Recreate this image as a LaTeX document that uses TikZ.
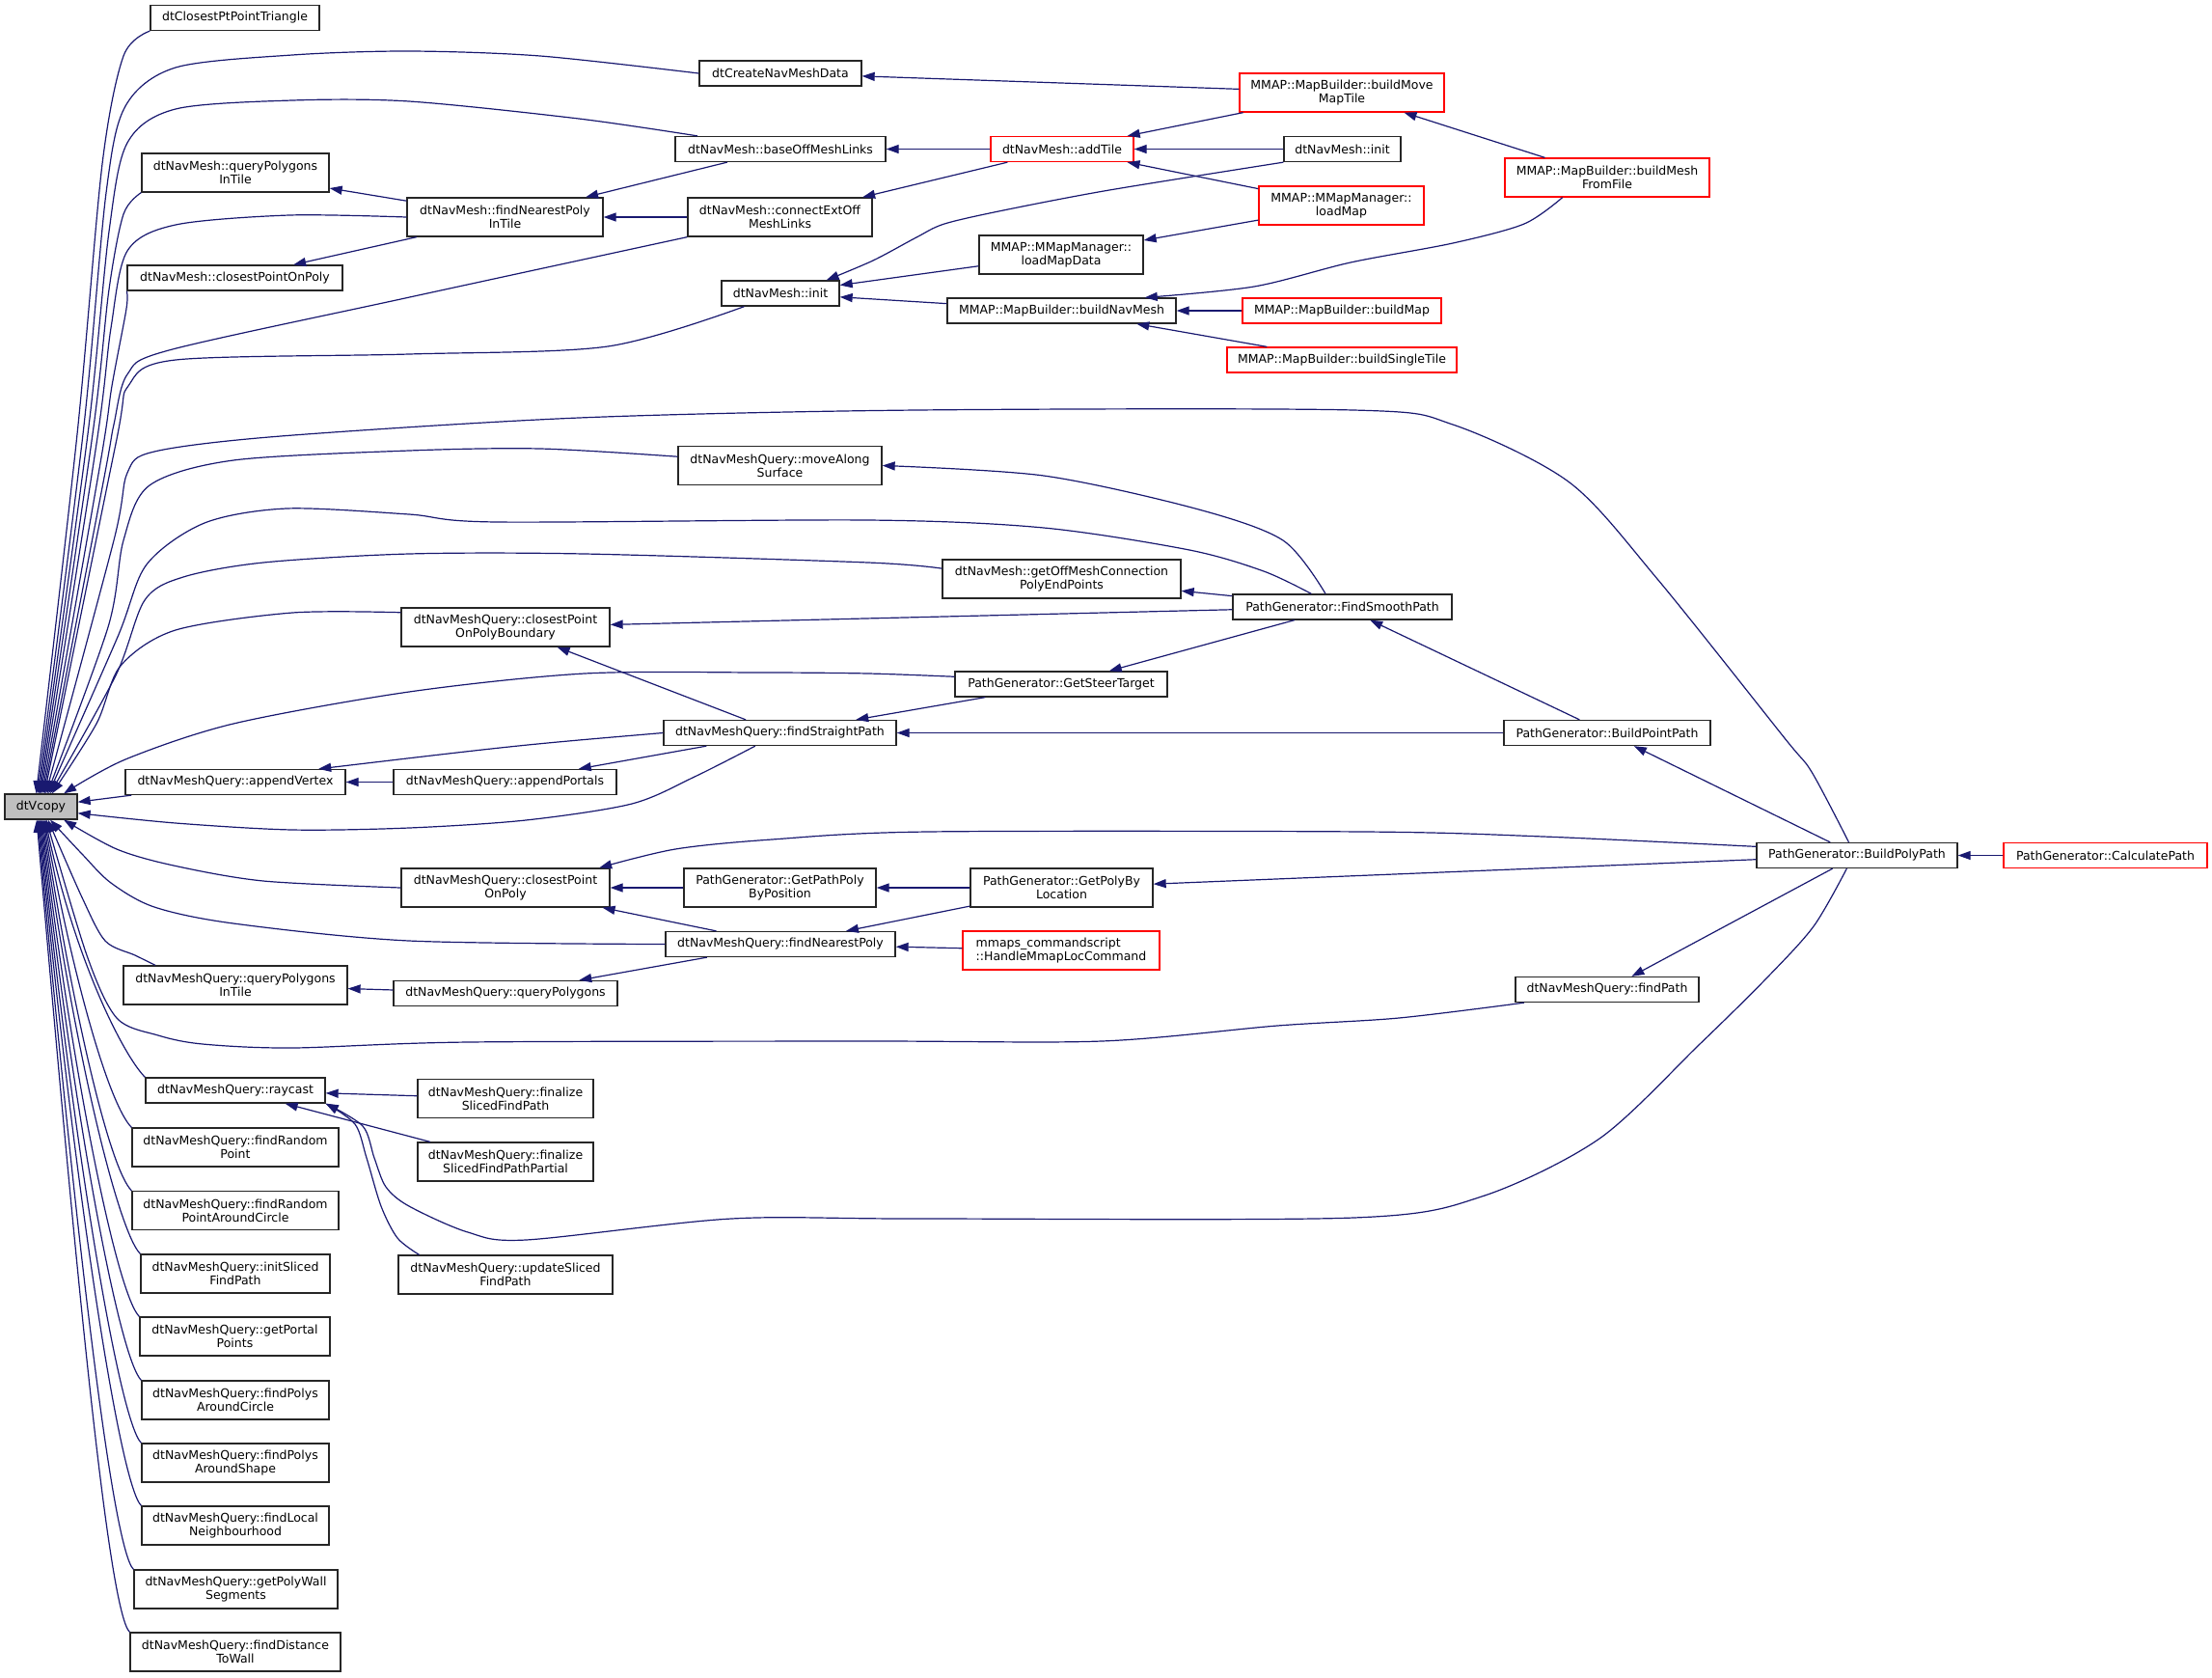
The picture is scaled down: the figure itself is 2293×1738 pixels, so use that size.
\documentclass[tikz,border=0pt]{standalone}
\usepackage{fontspec}
\setmainfont{DejaVu Sans}
\usetikzlibrary{arrows.meta}
\definecolor{edgeblue}{HTML}{191970}
\definecolor{boxred}{HTML}{FF0000}
\definecolor{curfill}{HTML}{BFBFBF}
\tikzset{
  fn/.style={draw=black!85, line width=1.3pt, fill=white, inner sep=0pt, align=center,
    minimum height=26pt, font=\fontsize{12.5}{14}\selectfont},
  fntwo/.style={fn, minimum height=40pt},
  trunc/.style={draw=boxred},
  call/.style={draw=edgeblue, line width=1.2pt, -{Triangle[length=13pt,width=9pt]}},
}
\begin{document}
\begin{tikzpicture}[x=1pt,y=-1pt]
  \useasboundingbox (0,0) rectangle (2293,1738);

  % the function itself
  \node[fn, fill=curfill, minimum width=75pt] (dtvcopy) at (42.5,836) {dtVcopy};

  % first column
  \node[fn, minimum width=175pt] (closestpt) at (243.5,18.5) {dtClosestPtPointTriangle};
  \node[fntwo, minimum width=194pt] (navqpintile) at (244,179) {dtNavMesh::queryPolygons\\InTile};
  \node[fn, minimum width=223pt] (navcpop) at (243.5,288) {dtNavMesh::closestPointOnPoly};
  \node[fn, minimum width=228pt] (appendvtx) at (244,810.5) {dtNavMeshQuery::appendVertex};
  \node[fntwo, minimum width=232pt] (qpintile) at (244,1021) {dtNavMeshQuery::queryPolygons\\InTile};
  \node[fn, minimum width=186pt] (raycast) at (244,1130) {dtNavMeshQuery::raycast};
  \node[fntwo, minimum width=214pt] (randpt) at (244,1189) {dtNavMeshQuery::findRandom\\Point};
  \node[fntwo, minimum width=214pt] (randcircle) at (244,1254.5) {dtNavMeshQuery::findRandom\\PointAroundCircle};
  \node[fntwo, minimum width=196pt] (initsliced) at (244,1320) {dtNavMeshQuery::initSliced\\FindPath};
  \node[fntwo, minimum width=197pt] (portalpts) at (243.5,1385) {dtNavMeshQuery::getPortal\\Points};
  \node[fntwo, minimum width=194pt] (polyscircle) at (244,1451) {dtNavMeshQuery::findPolys\\AroundCircle};
  \node[fntwo, minimum width=194pt] (polysshape) at (244,1516) {dtNavMeshQuery::findPolys\\AroundShape};
  \node[fntwo, minimum width=194pt] (localnbh) at (244,1581) {dtNavMeshQuery::findLocal\\Neighbourhood};
  \node[fntwo, minimum width=211pt] (wallsegs) at (244.5,1647) {dtNavMeshQuery::getPolyWall\\Segments};
  \node[fntwo, minimum width=218pt] (distwall) at (244,1712) {dtNavMeshQuery::findDistance\\ToWall};

  % second column
  \node[fntwo, minimum width=203pt] (nearestintile) at (523.5,225) {dtNavMesh::findNearestPoly\\InTile};
  \node[fntwo, minimum width=216pt] (cpboundary) at (524,650) {dtNavMeshQuery::closestPoint\\OnPolyBoundary};
  \node[fn, minimum width=231pt] (appendportals) at (523.5,810.5) {dtNavMeshQuery::appendPortals};
  \node[fntwo, minimum width=216pt] (cpop) at (524,920) {dtNavMeshQuery::closestPoint\\OnPoly};
  \node[fn, minimum width=232pt] (querypolys) at (524,1029.5) {dtNavMeshQuery::queryPolygons};
  \node[fntwo, minimum width=182pt] (finsliced) at (524,1138.5) {dtNavMeshQuery::finalize\\SlicedFindPath};
  \node[fntwo, minimum width=182pt] (finpartial) at (524,1204) {dtNavMeshQuery::finalize\\SlicedFindPathPartial};
  \node[fntwo, minimum width=222pt] (updsliced) at (524,1321) {dtNavMeshQuery::updateSliced\\FindPath};

  % third column
  \node[fn, minimum width=168pt] (createnav) at (809,76) {dtCreateNavMeshData};
  \node[fn, minimum width=218pt] (baseoff) at (809,154.5) {dtNavMesh::baseOffMeshLinks};
  \node[fntwo, minimum width=191pt] (connectext) at (808.5,225) {dtNavMesh::connectExtOff\\MeshLinks};
  \node[fn, minimum width=122pt] (initleft) at (809,304) {dtNavMesh::init};
  \node[fntwo, minimum width=211pt] (movealong) at (808.5,482.5) {dtNavMeshQuery::moveAlong\\Surface};
  \node[fn, minimum width=241pt] (straightpath) at (808.5,759.5) {dtNavMeshQuery::findStraightPath};
  \node[fntwo, minimum width=199pt] (pathpolypos) at (808.5,920) {PathGenerator::GetPathPoly\\ByPosition};
  \node[fn, minimum width=238pt] (nearestpoly) at (809,978.5) {dtNavMeshQuery::findNearestPoly};

  % fourth column
  \node[fn, trunc, minimum width=148pt] (addtile) at (1101,154.5) {dtNavMesh::addTile};
  \node[fntwo, minimum width=170pt] (loadmapdata) at (1100,264) {MMAP::MMapManager::\\loadMapData};
  \node[fn, minimum width=237pt] (buildnavmesh) at (1100.5,322) {MMAP::MapBuilder::buildNavMesh};
  \node[fntwo, minimum width=247pt] (offmeshconn) at (1100.5,600) {dtNavMesh::getOffMeshConnection\\PolyEndPoints};
  \node[fn, minimum width=220pt] (steertarget) at (1100,709) {PathGenerator::GetSteerTarget};
  \node[fntwo, minimum width=189pt] (polybyloc) at (1100.5,920) {PathGenerator::GetPolyBy\\Location};
  \node[fntwo, trunc, align=left, minimum width=204pt] (mmapsloc) at (1100,985) {mmaps\_commandscript\\::HandleMmapLocCommand};

  % fifth column
  \node[fntwo, trunc, minimum width=212pt] (buildmovetile) at (1391,96) {MMAP::MapBuilder::buildMove\\MapTile};
  \node[fn, minimum width=121pt] (initright) at (1391.5,154.5) {dtNavMesh::init};
  \node[fntwo, trunc, minimum width=171pt] (loadmap) at (1390.5,213) {MMAP::MMapManager::\\loadMap};
  \node[fn, trunc, minimum width=206pt] (buildmap) at (1391,322) {MMAP::MapBuilder::buildMap};
  \node[fn, trunc, minimum width=238pt] (buildsingle) at (1391,373) {MMAP::MapBuilder::buildSingleTile};
  \node[fn, minimum width=227pt] (smoothpath) at (1391.5,629) {PathGenerator::FindSmoothPath};

  % right columns
  \node[fntwo, trunc, minimum width=212pt] (meshfromfile) at (1666,184) {MMAP::MapBuilder::buildMesh\\FromFile};
  \node[fn, minimum width=214pt] (pointpath) at (1666,759.5) {PathGenerator::BuildPointPath};
  \node[fn, minimum width=190pt] (findpath) at (1666,1025.5) {dtNavMeshQuery::findPath};
  \node[fn, minimum width=208pt] (polypath) at (1925,886.5) {PathGenerator::BuildPolyPath};
  \node[fn, trunc, minimum width=211pt] (calcpath) at (2182.5,886.5) {PathGenerator::CalculatePath};

  % callers of dtVcopy from above
  \draw[call] plot[smooth] coordinates {(closestpt.south west) (128,58) (106,170) (80,450) (dtvcopy.110)};
  \draw[call] plot[smooth] coordinates {(createnav.west) (560,58) (424,53) (303,57) (182,70) (130,110) (110,200) (86,450) (dtvcopy.105)};
  \draw[call] plot[smooth] coordinates {(baseoff.171) (600,123) (424,105) (303,104) (182,113) (132,148) (113,240) (91,450) (dtvcopy.100)};
  \draw[call] plot[smooth] coordinates {(navqpintile.south west) (128,222) (113,300) (96,450) (dtvcopy.95)};
  \draw[call] plot[smooth] coordinates {(nearestintile.west) (300,223) (182,233) (132,260) (115,340) (100,460) (dtvcopy.90)};
  \draw[call] plot[smooth] coordinates {(navcpop.south west) (131,320) (116,400) (104,480) (dtvcopy.85)};
  \draw[call] plot[smooth] coordinates {(connectext.south west) (420,309) (175,363) (132,388) (118,440) (107,500) (dtvcopy.80)};
  \draw[call] plot[smooth] coordinates {(initleft.-160) (630,359) (424,367) (182,373) (133,400) (120,460) (dtvcopy.75)};
  \draw[call] plot[smooth] coordinates {(polypath.122) (1878,800) (1850,765) (1718,600) (1627,500) (1506,440) (1403,425) (950,425) (600,433) (291,452) (160,468) (132,490) (118,560) (dtvcopy.70)};
  \draw[call] plot[smooth] coordinates {(movealong.175) (560,465) (424,467) (242,477) (155,503) (128,560) (112,650) (dtvcopy.65)};
  \draw[call] plot[smooth] coordinates {(smoothpath.157) (1310,592) (1233,570) (1082,547) (900,539) (515,541) (424,533) (297,527) (212,542) (152,585) (122,660) (dtvcopy.60)};
  \draw[call] plot[smooth] coordinates {(offmeshconn.175) (900,583) (606,574) (424,574) (273,583) (190,598) (150,622) (120,700) (dtvcopy.55)};
  \draw[call] plot[smooth] coordinates {(cpboundary.172) (303,635) (182,653) (125,690) (100,750) (dtvcopy.50)};
  \draw[call] plot[smooth] coordinates {(steertarget.176) (900,698) (788,697) (606,698) (424,717) (242,750) (130,787) (dtvcopy.30)};

  % callers of dtVcopy from the side and below
  \draw[call] (appendvtx) -- (dtvcopy);
  \draw[call] plot[smooth] coordinates {(straightpath.-152) (720,805) (655,833) (545,850) (424,858) (303,860) (182,853) (dtvcopy.-10)};
  \draw[call] plot[smooth] coordinates {(cpop.west) (273,913) (180,897) (121,880) (dtvcopy.-30)};
  \draw[call] plot[smooth] coordinates {(nearestpoly.west) (424,975) (242,957) (160,940) (115,915) (85,885) (dtvcopy.-55)};
  \draw[call] plot[smooth] coordinates {(qpintile.166) (140,990) (109,975) (85,930) (dtvcopy.-62)};
  \draw[call] plot[smooth] coordinates {(findpath.-171) (1450,1055) (1324,1063) (1142,1079) (900,1079) (485,1080) (303,1086) (210,1082) (164,1073) (121,1055) (90,990) (dtvcopy.-68)};
  \foreach \n/\a/\cy in {raycast/-72/996, randpt/-76/1025, randcircle/-80/1061, initsliced/-84/1097,
      portalpts/-88/1133, polyscircle/-92/1169, polysshape/-96/1205, localnbh/-100/1240,
      wallsegs/-104/1276, distwall/-108/1313}{
    \draw[call] (\n.north west) .. controls +(-22,-22) and (78,\cy) .. (dtvcopy.\a);
  }

  % navmesh building
  \draw[call] (buildmovetile) -- (createnav);
  \draw[call] (buildmovetile) -- (addtile);
  \draw[call] (meshfromfile) -- (buildmovetile);
  \draw[call] plot[smooth] coordinates {(meshfromfile.-156) (1580,232) (1506,252) (1400,272) (1300,297) (buildnavmesh.9)};
  \draw[call] (addtile) -- (baseoff);
  \draw[call] (addtile) -- (connectext);
  \draw[call] (initright) -- (addtile);
  \draw[call] (loadmap) -- (addtile);
  \draw[call] (loadmap) -- (loadmapdata);
  \draw[call] (loadmapdata) -- (initleft);
  \draw[call] (buildnavmesh) -- (initleft);
  \draw[call] plot[smooth] coordinates {(initright.south west) (1150,197) (1040,218) (979,232) (950,246) (905,270) (initleft.16)};
  \draw[call] (buildmap) -- (buildnavmesh);
  \draw[call] (buildsingle) -- (buildnavmesh);
  \draw[call] (baseoff) -- (nearestintile);
  \draw[call] (connectext) -- (nearestintile);
  \draw[call] (nearestintile) -- (navqpintile);
  \draw[call] (nearestintile) -- (navcpop);

  % path finding
  \draw[call] plot[smooth] coordinates {(smoothpath.142) (1330,560) (1239,527) (1082,493) (movealong.east)};
  \draw[call] (smoothpath) -- (offmeshconn);
  \draw[call] (smoothpath) -- (cpboundary);
  \draw[call] (smoothpath) -- (steertarget);
  \draw[call] (pointpath) -- (smoothpath);
  \draw[call] (steertarget) -- (straightpath);
  \draw[call] (pointpath) -- (straightpath);
  \draw[call] (straightpath) -- (cpboundary);
  \draw[call] (straightpath.west) .. controls (540,772) .. (appendvtx.9);
  \draw[call] (straightpath) -- (appendportals);
  \draw[call] (appendportals) -- (appendvtx);
  \draw[call] (polypath) -- (pointpath);
  \draw[call] plot[smooth] coordinates {(polypath.175) (1600,867) (1415,862) (961,862) (800,870) (700,880) (cpop.12)};
  \draw[call] (polypath) -- (polybyloc);
  \draw[call] (polypath) -- (findpath);
  \draw[call] plot[smooth] coordinates {(polypath.-128) (1880,960) (1830,1015) (1761,1083) (1658,1180) (1536,1240) (1403,1262) (950,1263) (758,1263) (545,1285) (485,1277) (424,1250) (400,1230) (388,1200) (376,1167) (raycast.south east)};
  \draw[call] (calcpath) -- (polypath);
  \draw[call] (polybyloc) -- (pathpolypos);
  \draw[call] (pathpolypos) -- (cpop);
  \draw[call] (polybyloc) -- (nearestpoly);
  \draw[call] (nearestpoly) -- (cpop);
  \draw[call] (mmapsloc) -- (nearestpoly);
  \draw[call] (nearestpoly) -- (querypolys);
  \draw[call] (querypolys) -- (qpintile);
  \draw[call] (finsliced) -- (raycast);
  \draw[call] (finpartial) -- (raycast);
  \draw[call] plot[smooth] coordinates {(updsliced.167) (412,1283) (395,1250) (380,1200) (368,1165) (raycast.south east)};
\end{tikzpicture}
\end{document}
